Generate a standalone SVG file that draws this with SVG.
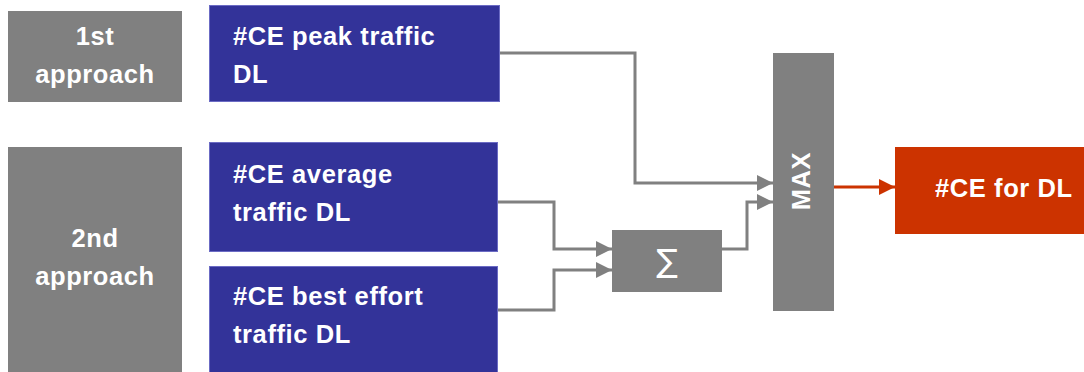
<svg xmlns="http://www.w3.org/2000/svg" width="1084" height="372" viewBox="0 0 1084 372">
<defs>
<style>
.gray{fill:#808080}
.blue{fill:#333399;stroke:#6b6bc4;stroke-width:1}
.red{fill:#cc3300}
.t{font-family:"Liberation Sans",Arial,sans-serif;font-weight:bold;font-size:25.5px;fill:#ffffff;letter-spacing:0.6px}
.c{text-anchor:middle}
.ln{fill:none;stroke:#808080;stroke-width:3}
.lr{fill:none;stroke:#cc3300;stroke-width:3}
</style>
<marker id="ag" markerUnits="userSpaceOnUse" markerWidth="17" markerHeight="16" refX="16" refY="8" orient="auto">
<path d="M0,0 L16,8 L0,16 Z" fill="#808080"/>
</marker>
<marker id="ar" markerUnits="userSpaceOnUse" markerWidth="17" markerHeight="16" refX="16" refY="8" orient="auto">
<path d="M0,0 L16,8 L0,16 Z" fill="#cc3300"/>
</marker>
</defs>
<rect width="1084" height="372" fill="#ffffff"/>
<g id="connectors">
<path class="ln" d="M497,53 H635 V183 H773" marker-end="url(#ag)"/>
<path class="ln" d="M722,249 H747 V202 H773" marker-end="url(#ag)"/>
<path class="ln" d="M497,202 H554 V249 H612" marker-end="url(#ag)"/>
<path class="ln" d="M497,310 H554 V270 H612" marker-end="url(#ag)"/>
<path class="lr" d="M834,187 H895" marker-end="url(#ar)"/>
</g>
<g id="approach1">
<rect class="gray" x="8" y="11" width="174" height="91"/>
<text class="t c" x="95" y="45">1st</text>
<text class="t c" x="95" y="83">approach</text>
</g>
<g id="approach2">
<rect class="gray" x="8" y="147" width="174" height="230"/>
<text class="t c" x="95" y="247">2nd</text>
<text class="t c" x="95" y="285">approach</text>
</g>
<g id="peak">
<rect class="blue" x="209.5" y="5.5" width="290" height="96"/>
<text class="t" x="233" y="45">#CE peak traffic</text>
<text class="t" x="233" y="83">DL</text>
</g>
<g id="average">
<rect class="blue" x="209.5" y="142.5" width="288" height="109"/>
<text class="t" x="233" y="183">#CE average</text>
<text class="t" x="233" y="221">traffic DL</text>
</g>
<g id="besteffort">
<rect class="blue" x="209.5" y="266.5" width="288" height="110"/>
<text class="t" x="233" y="305">#CE best effort</text>
<text class="t" x="233" y="343">traffic DL</text>
</g>
<g id="sum">
<rect class="gray" x="612" y="230" width="110" height="62"/>
<text x="667" y="272" text-anchor="middle" font-family="'DejaVu Sans',sans-serif" font-size="32" fill="#ffffff">∑</text>
</g>
<g id="max">
<rect class="gray" x="773" y="53" width="61" height="258"/>
<text class="t c" transform="translate(810,181) rotate(-90)" x="0" y="0">MAX</text>
</g>
<g id="result">
<rect class="red" x="895" y="147" width="189" height="87"/>
<text class="t" x="935" y="197">#CE for DL</text>
</g>
</svg>
